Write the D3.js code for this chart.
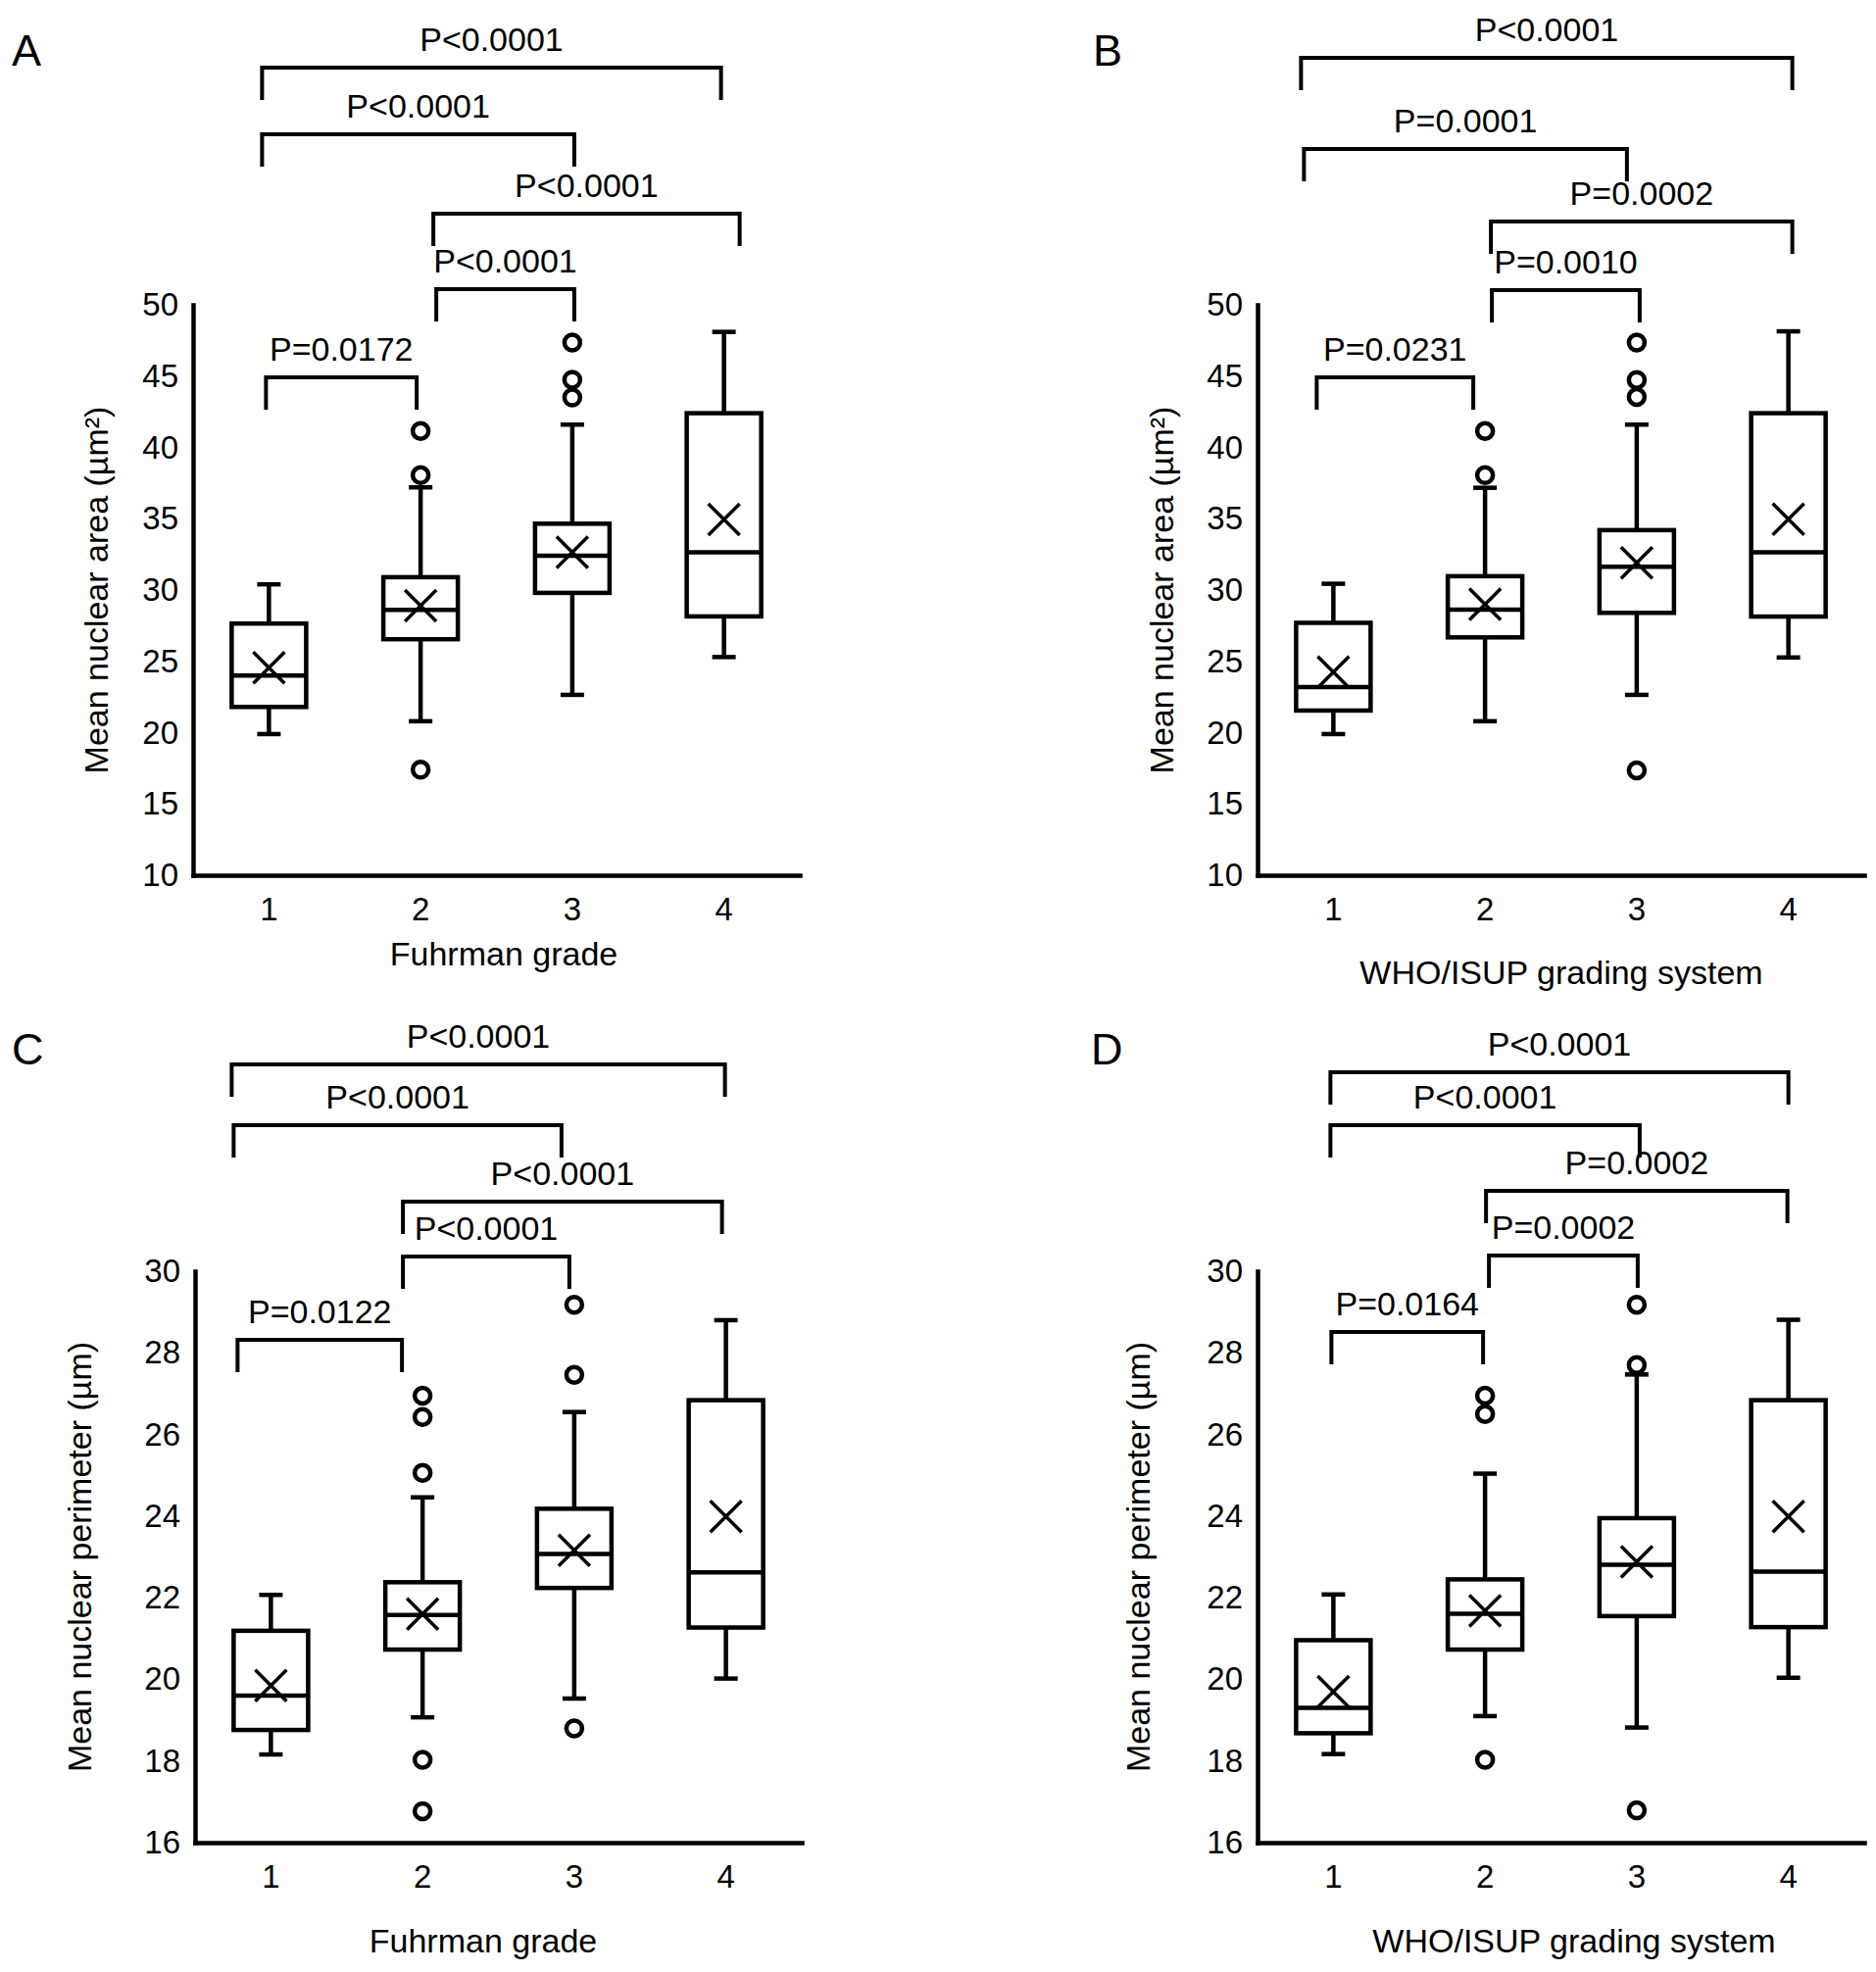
<!DOCTYPE html>
<meta charset="utf-8">
<style>

body {
  margin: 0;
  background: #fff;
}

svg {
  display: block;
}

.chart text {
  font-family: "Liberation Sans", Arial, Helvetica, sans-serif;
  fill: #000;
}

.axis path {
  stroke: #000;
  stroke-width: 4.5;
  stroke-linecap: square;
}

.axis text {
  font-size: 33px;
}

.box rect,
.box line,
.box path,
.bracket path {
  fill: none;
  stroke: #000;
  stroke-width: 4.5;
}

.bracket path {
  stroke-width: 4;
}

.box .mean {
  stroke-width: 3.5;
}

.box circle {
  fill: #fff;
  stroke: #000;
  stroke-width: 4.5;
}

</style>
<svg class="chart"></svg>
<script src="https://d3js.org/d3.v7.min.js"></script>
<script>

// categories and tick labels
var grades = ["1", "2", "3", "4"];
var areaTicks = [10, 15, 20, 25, 30, 35, 40, 45, 50];
var perimeterTicks = [16, 18, 20, 22, 24, 26, 28, 30];

// A: nuclear area by Fuhrman grade
var fuhrmanAreaLow     = [19.9, 20.8, 22.65, 25.3];
var fuhrmanAreaQ1      = [21.8, 26.55, 29.8, 28.15];
var fuhrmanAreaMedian  = [24.0, 28.6, 32.4, 32.65];
var fuhrmanAreaQ3      = [27.65, 30.9, 34.65, 42.4];
var fuhrmanAreaHigh    = [30.4, 37.2, 41.6, 48.1];
var fuhrmanAreaMean    = [24.56, 28.9, 32.65, 34.95];
var fuhrmanAreaOutliers = [[], [41.15, 38.05, 17.4], [47.35, 44.75, 43.5], []];
var fuhrmanAreaPairs   = [[1, 4], [1, 3], [2, 4], [2, 3], [1, 2]];
var fuhrmanAreaP       = ["P<0.0001", "P<0.0001", "P<0.0001", "P<0.0001", "P=0.0172"];

// B: nuclear area by WHO/ISUP grade
var whoAreaLow     = [19.9, 20.8, 22.65, 25.27];
var whoAreaQ1      = [21.55, 26.68, 28.4, 28.14];
var whoAreaMedian  = [23.2, 28.63, 31.64, 32.65];
var whoAreaQ3      = [27.7, 30.97, 34.2, 42.4];
var whoAreaHigh    = [30.44, 37.17, 41.6, 48.14];
var whoAreaMean    = [24.25, 29.0, 31.9, 34.96];
var whoAreaOutliers = [[], [41.15, 38.05], [47.35, 44.73, 43.54, 17.35], []];
var whoAreaPairs   = [[1, 4], [1, 3], [2, 4], [2, 3], [1, 2]];
var whoAreaP       = ["P<0.0001", "P=0.0001", "P=0.0002", "P=0.0010", "P=0.0231"];

// C: nuclear perimeter by Fuhrman grade
var fuhrmanPerimLow     = [18.16, 19.07, 19.53, 20.02];
var fuhrmanPerimQ1      = [18.76, 20.73, 22.24, 21.27];
var fuhrmanPerimMedian  = [19.6, 21.58, 23.07, 22.62];
var fuhrmanPerimQ3      = [21.19, 22.38, 24.18, 26.84];
var fuhrmanPerimHigh    = [22.07, 24.46, 26.55, 28.8];
var fuhrmanPerimMean    = [19.85, 21.6, 23.16, 23.99];
var fuhrmanPerimOutliers = [[], [26.95, 26.43, 25.06, 18.03, 16.77], [29.18, 27.46, 18.8], []];
var fuhrmanPerimPairs   = [[1, 4], [1, 3], [2, 4], [2, 3], [1, 2]];
var fuhrmanPerimP       = ["P<0.0001", "P<0.0001", "P<0.0001", "P<0.0001", "P=0.0122"];

// D: nuclear perimeter by WHO/ISUP grade
var whoPerimLow     = [18.17, 19.1, 18.82, 20.04];
var whoPerimQ1      = [18.68, 20.73, 21.55, 21.28];
var whoPerimMedian  = [19.3, 21.61, 22.81, 22.64];
var whoPerimQ3      = [20.96, 22.45, 23.95, 26.84];
var whoPerimHigh    = [22.08, 25.04, 27.47, 28.81];
var whoPerimMean    = [19.7, 21.68, 22.88, 23.99];
var whoPerimOutliers = [[], [26.95, 26.5, 18.03], [29.18, 27.7, 16.79], []];
var whoPerimPairs   = [[1, 4], [1, 3], [2, 4], [2, 3], [1, 2]];
var whoPerimP       = ["P<0.0001", "P<0.0001", "P=0.0002", "P=0.0002", "P=0.0164"];

var width = 1914,
    height = 2012;

var svg = d3.select(".chart")
    .attr("width", width)
    .attr("height", height);

svg.append("rect")
    .attr("width", width)
    .attr("height", height)
    .attr("fill", "#fff");

// panel layout (pixels); the data arrays stay above
var panels = [
  {
    letter: "A", letterX: 12, letterY: 67,
    left: 197, right: 816, top: 311, bottom: 893,
    ticks: areaTicks,
    yTitle: "Mean nuclear area (\u00b5m\u00b2)", yTitleX: 98,
    xTitle: "Fuhrman grade", xTitleX: 514, xTitleY: 985,
    low: fuhrmanAreaLow, q1: fuhrmanAreaQ1, median: fuhrmanAreaMedian, q3: fuhrmanAreaQ3,
    high: fuhrmanAreaHigh, mean: fuhrmanAreaMean, outliers: fuhrmanAreaOutliers,
    pairs: fuhrmanAreaPairs, pLabels: fuhrmanAreaP,
    bracketY: [69, 137, 218, 295, 385],
    bracketNudge: [[-7, -3], [-7, 2], [13, 16], [16, 2], [-3, -4]]
  },
  {
    letter: "B", letterX: 1115, letterY: 67,
    left: 1283, right: 1902, top: 311, bottom: 893,
    ticks: areaTicks,
    yTitle: "Mean nuclear area (\u00b5m\u00b2)", yTitleX: 1185,
    xTitle: "WHO/ISUP grading system", xTitleX: 1593, xTitleY: 1004,
    low: whoAreaLow, q1: whoAreaQ1, median: whoAreaMedian, q3: whoAreaQ3,
    high: whoAreaHigh, mean: whoAreaMean, outliers: whoAreaOutliers,
    pairs: whoAreaPairs, pLabels: whoAreaP,
    bracketY: [59, 152, 226, 296, 385],
    bracketNudge: [[-33, 4], [-30, -10], [6, 4], [7, 3], [-17, -12]]
  },
  {
    letter: "C", letterX: 12, letterY: 1086,
    left: 199, right: 818, top: 1297, bottom: 1880,
    ticks: perimeterTicks,
    yTitle: "Mean nuclear perimeter (\u00b5m)", yTitleX: 81,
    xTitle: "Fuhrman grade", xTitleX: 493, xTitleY: 1992,
    low: fuhrmanPerimLow, q1: fuhrmanPerimQ1, median: fuhrmanPerimMedian, q3: fuhrmanPerimQ3,
    high: fuhrmanPerimHigh, mean: fuhrmanPerimMean, outliers: fuhrmanPerimOutliers,
    pairs: fuhrmanPerimPairs, pLabels: fuhrmanPerimP,
    bracketY: [1086, 1148, 1226, 1282, 1367],
    bracketNudge: [[-40, -1], [-38, -13], [-20, -4], [-20, -5], [-34, -21]]
  },
  {
    letter: "D", letterX: 1113, letterY: 1086,
    left: 1283, right: 1902, top: 1297, bottom: 1880,
    ticks: perimeterTicks,
    yTitle: "Mean nuclear perimeter (\u00b5m)", yTitleX: 1161,
    xTitle: "WHO/ISUP grading system", xTitleX: 1606, xTitleY: 1992,
    low: whoPerimLow, q1: whoPerimQ1, median: whoPerimMedian, q3: whoPerimQ3,
    high: whoPerimHigh, mean: whoPerimMean, outliers: whoPerimOutliers,
    pairs: whoPerimPairs, pLabels: whoPerimP,
    bracketY: [1094, 1148, 1215, 1281, 1359],
    bracketNudge: [[-3, 0], [-3, 3], [1, -1], [4, 1], [-2, -2]]
  }
];

var boxWidth = 76,
    capWidth = 24,
    crossHalf = 16,
    outlierRadius = 8,
    legLength = 33,
    labelGap = 17;

panels.forEach(drawPanel);

function drawPanel(p) {

  var x = d3.scaleBand()
      .domain(grades)
      .range([p.left, p.right])
      .padding(0);

  var y = d3.scaleLinear()
      .domain(d3.extent(p.ticks))
      .range([p.bottom, p.top]);

  var cx = function(i) { return x(grades[i]) + x.bandwidth() / 2; };

  var g = svg.append("g");

  // panel letter
  g.append("text")
      .attr("x", p.letterX)
      .attr("y", p.letterY)
      .style("font-size", "45px")
      .text(p.letter);

  // axes
  g.append("g")
      .attr("class", "axis")
      .attr("transform", "translate(" + p.left + ",0)")
      .call(d3.axisLeft(y).tickValues(p.ticks).tickSize(0).tickSizeOuter(0).tickPadding(15))
      .call(function(a) { a.attr("font-family", null).attr("font-size", null); });

  g.append("g")
      .attr("class", "axis")
      .attr("transform", "translate(0," + p.bottom + ")")
      .call(d3.axisBottom(x).tickSize(0).tickSizeOuter(0).tickPadding(23))
      .call(function(a) { a.attr("font-family", null).attr("font-size", null); });

  // axis titles
  g.append("text")
      .attr("transform", "translate(" + p.yTitleX + "," + (p.top + p.bottom) / 2 + ") rotate(-90)")
      .attr("text-anchor", "middle")
      .attr("dy", "0.35em")
      .style("font-size", "34px")
      .text(p.yTitle);

  g.append("text")
      .attr("x", p.xTitleX)
      .attr("y", p.xTitleY)
      .attr("text-anchor", "middle")
      .style("font-size", "34px")
      .text(p.xTitle);

  // boxes
  var boxes = g.selectAll(".box")
      .data(grades)
      .enter().append("g")
      .attr("class", "box");

  boxes.append("line")
      .attr("x1", function(d, i) { return cx(i); })
      .attr("x2", function(d, i) { return cx(i); })
      .attr("y1", function(d, i) { return y(p.q3[i]); })
      .attr("y2", function(d, i) { return y(p.high[i]); });

  boxes.append("line")
      .attr("x1", function(d, i) { return cx(i); })
      .attr("x2", function(d, i) { return cx(i); })
      .attr("y1", function(d, i) { return y(p.q1[i]); })
      .attr("y2", function(d, i) { return y(p.low[i]); });

  boxes.append("line")
      .attr("x1", function(d, i) { return cx(i) - capWidth / 2; })
      .attr("x2", function(d, i) { return cx(i) + capWidth / 2; })
      .attr("y1", function(d, i) { return y(p.high[i]); })
      .attr("y2", function(d, i) { return y(p.high[i]); });

  boxes.append("line")
      .attr("x1", function(d, i) { return cx(i) - capWidth / 2; })
      .attr("x2", function(d, i) { return cx(i) + capWidth / 2; })
      .attr("y1", function(d, i) { return y(p.low[i]); })
      .attr("y2", function(d, i) { return y(p.low[i]); });

  boxes.append("rect")
      .attr("x", function(d, i) { return cx(i) - boxWidth / 2; })
      .attr("width", boxWidth)
      .attr("y", function(d, i) { return y(p.q3[i]); })
      .attr("height", function(d, i) { return y(p.q1[i]) - y(p.q3[i]); });

  boxes.append("line")
      .attr("x1", function(d, i) { return cx(i) - boxWidth / 2; })
      .attr("x2", function(d, i) { return cx(i) + boxWidth / 2; })
      .attr("y1", function(d, i) { return y(p.median[i]); })
      .attr("y2", function(d, i) { return y(p.median[i]); });

  // mean marker
  boxes.append("path")
      .attr("class", "mean")
      .attr("d", function(d, i) {
        var mx = cx(i), my = y(p.mean[i]), h = crossHalf;
        return "M" + (mx - h) + "," + (my - h) + "L" + (mx + h) + "," + (my + h) +
               "M" + (mx - h) + "," + (my + h) + "L" + (mx + h) + "," + (my - h);
      });

  // outliers
  boxes.each(function(d, i) {
    d3.select(this).selectAll("circle")
        .data(p.outliers[i])
        .enter().append("circle")
        .attr("cx", cx(i))
        .attr("cy", function(v) { return y(v); })
        .attr("r", outlierRadius);
  });

  // significance brackets
  var brackets = g.selectAll(".bracket")
      .data(p.pairs)
      .enter().append("g")
      .attr("class", "bracket");

  brackets.append("path")
      .attr("d", function(d, i) {
        var x1 = cx(d[0] - 1) + p.bracketNudge[i][0],
            x2 = cx(d[1] - 1) + p.bracketNudge[i][1],
            by = p.bracketY[i];
        return "M" + x1 + "," + (by + legLength) + "V" + by + "H" + x2 + "V" + (by + legLength);
      });

  brackets.append("text")
      .attr("x", function(d, i) {
        return (cx(d[0] - 1) + p.bracketNudge[i][0] + cx(d[1] - 1) + p.bracketNudge[i][1]) / 2;
      })
      .attr("y", function(d, i) { return p.bracketY[i] - labelGap; })
      .attr("text-anchor", "middle")
      .style("font-size", "34px")
      .text(function(d, i) { return p.pLabels[i]; });
}

</script>
